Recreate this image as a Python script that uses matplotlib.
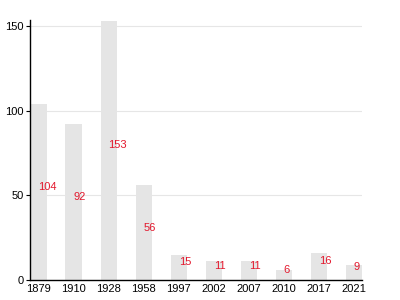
import numpy as np
import matplotlib
matplotlib.use('Agg')
import matplotlib.pyplot as plt

years = ['1879', '1910', '1928', '1958', '1997', '2002', '2007', '2010', '2017', '2021']
counts = [104, 92, 153, 56, 15, 11, 11, 6, 16, 9]

plt.rcParams['font.family'] = ['Liberation Sans', 'DejaVu Sans']

fig = plt.figure(figsize=(4, 3), dpi=100)
ax = fig.add_axes([0.076, 0.067, 0.829, 0.866])

x = np.arange(len(years))
w = 0.46
ax.bar(x, counts, width=w, color='#e5e5e5', zorder=2)
for xi, v in zip(x, counts):
    ax.text(xi, v / 2, str(v), color='#e3182d', fontsize=8, ha='left', va='bottom', zorder=3)

ax.set_xlim(-w / 2, len(years) - 1 + w / 2)
ax.set_ylim(0, 153.5)
ax.set_yticks([0, 50, 100, 150])
ax.set_xticks(x)
ax.set_xticklabels(years)
ax.tick_params(axis='x', length=0, labelsize=8, pad=3)
ax.tick_params(axis='y', length=3, labelsize=8, pad=2)
ax.yaxis.grid(True, color='#e6e6e6', linewidth=0.8, zorder=0)
ax.set_axisbelow(True)
for s in ['top', 'right']:
    ax.spines[s].set_visible(False)
ax.spines['left'].set_linewidth(1)
ax.spines['bottom'].set_linewidth(1)

fig.savefig('out.png', dpi=100)
